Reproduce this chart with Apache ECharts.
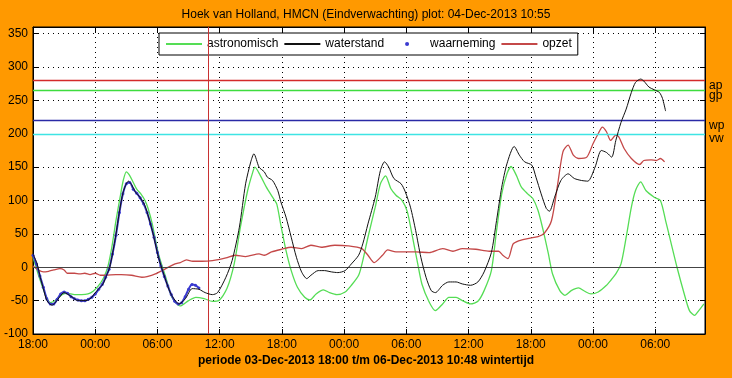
<!DOCTYPE html>
<html>
<head>
<meta charset="utf-8">
<script src="https://cdn.jsdelivr.net/npm/echarts@6/dist/echarts.min.js"></script>
<style>
html,body{margin:0;padding:0;background:#FF9900;}
#chart{width:732px;height:378px;}
</style>
</head>
<body>
<div id="chart"></div>
<script>
// time in hours since 03-Dec-2013 18:00
var titleText = 'Hoek van Holland, HMCN (Eindverwachting) plot: 04-Dec-2013 10:55';
var periodText = 'periode 03-Dec-2013 18:00 t/m 06-Dec-2013 10:48 wintertijd';
var seriesNames = ['astronomisch', 'waterstand', 'waarneming', 'opzet'];

var astronomisch = [
 [0,15],[0.7,-20],[1.3,-45],[1.7,-53],[2.3,-48],[2.8,-41],[3.3,-39],[4,-41],[4.7,-41],[5.3,-40],[5.8,-36],
 [6.3,-28],[6.8,-16],[7.2,0],[7.6,30],[8,70],[8.4,105],[8.7,130],[9,143],[9.3,138],[9.67,127],[10,117],
 [10.4,110],[10.8,100],[11.1,88],[11.5,65],[12.1,20],[12.8,-15],[13.4,-45],[14.2,-58],[15,-50],[15.7,-45],
 [16.5,-47],[17.3,-51],[17.9,-50],[18.7,-32],[19.4,5],[20,60],[20.7,115],[21.2,143],[21.4,150],[21.9,138],
 [22.5,120],[23.1,105],[23.5,95],[23.9,63],[24.4,25],[24.9,-5],[25.5,-30],[26.2,-45],[26.7,-49],[27.3,-40],
 [28,-34],[28.6,-38],[29.3,-41],[30.1,-37],[30.7,-27],[31.4,-12],[31.8,10],[32.3,45],[33,90],[33.5,125],
 [34,137],[34.5,118],[35,108],[35.6,100],[36.1,83],[36.6,45],[37.1,5],[37.5,-25],[38.2,-52],[38.8,-65],
 [39.5,-55],[40.1,-45],[40.8,-45],[41.4,-50],[42.2,-55],[42.9,-51],[43.5,-35],[44.2,-5],[44.7,55],[45.2,110],
 [45.7,140],[46.1,151],[46.6,138],[47.1,120],[47.7,110],[48.2,103],[48.7,85],[49.2,55],[49.7,20],[50.1,-10],
 [50.8,-35],[51.3,-42],[51.9,-35],[52.6,-31],[53.2,-36],[53.8,-40],[54.5,-37],[55.3,-27],[55.8,-18],[56.2,-10],
 [56.7,5],[57.2,45],[57.7,90],[58.1,115],[58.6,128],[59.1,115],[59.9,105],[60.5,100],[61,70],[61.5,38],
 [62.1,0],[62.8,-40],[63.3,-65],[63.8,-72],[64.2,-65],[64.7,-55]
];

var waterstand = [
 [0,20],[0.4,5],[0.7,-15],[1,-32],[1.34,-50],[1.84,-57],[2.3,-50],[2.8,-40],[3,-38],[3.3,-40],[3.8,-45],
 [4.3,-50],[5.1,-50],[5.6,-46],[5.9,-40],[6.3,-33],[6.75,-25],[7.1,-12],[7.4,0],[7.9,40],[8.3,80],[8.7,113],
 [9.2,129],[9.5,124],[9.87,113],[10.3,105],[10.8,92],[11.5,55],[12.1,15],[12.6,-10],[13.3,-40],[14.1,-55],
 [14.7,-47],[15.35,-32],[16,-33],[16.6,-38],[17.3,-41],[17.8,-38],[18.6,-15],[19.2,10],[19.9,60],[20.5,125],
 [21,158],[21.3,170],[21.8,150],[22.3,143],[22.6,135],[23.1,130],[23.6,115],[23.9,98],[24.4,75],[24.9,45],
 [25.4,15],[25.9,-7],[26.4,-17],[26.8,-12],[27.5,-5],[28.1,-5],[28.8,-7],[29.4,-8],[30.1,-5],[30.7,5],
 [31.4,18],[31.8,35],[32.3,65],[33,105],[33.5,145],[33.9,158],[34.3,150],[34.8,133],[35.5,125],[35.9,113],
 [36.4,90],[36.9,55],[37.4,15],[37.9,-15],[38.4,-35],[38.8,-38],[39.5,-27],[40.1,-22],[40.8,-22],[41.4,-25],
 [42.2,-27],[42.9,-22],[43.5,-7],[44.2,22],[44.7,70],[45.2,120],[45.7,155],[46.4,181],[46.9,168],[47.4,158],
 [48.1,153],[48.5,135],[49,110],[49.5,88],[49.8,84],[50.3,105],[50.9,130],[51.6,140],[52.2,133],[52.9,130],
 [53.5,129],[54.2,150],[54.8,175],[55.3,172],[55.8,165],[56.2,190],[56.7,217],[57.2,237],[57.7,262],
 [58.1,277],[58.6,282],[58.9,279],[59.4,270],[59.9,266],[60.4,262],[60.7,253],[61,234]
];

var waarneming = [
 [0,18],[0.33,5],[0.67,-13],[1,-30],[1.33,-47],[1.67,-55],[2,-55],[2.33,-48],[2.67,-40],[3,-37],[3.33,-39],
 [3.67,-44],[4,-47],[4.33,-49],[4.67,-50],[5,-50],[5.33,-48],[5.67,-45],[6,-40],[6.33,-33],[6.67,-26],
 [7,-15],[7.33,-3],[7.67,20],[8,48],[8.33,82],[8.67,110],[9,125],[9.33,127],[9.67,117],[10,111],[10.33,104],
 [10.67,95],[11,82],[11.33,65],[11.67,45],[12,22],[12.33,2],[12.67,-14],[13,-28],[13.33,-41],[13.67,-51],
 [14,-55],[14.33,-53],[14.67,-44],[15,-33],[15.33,-26],[15.67,-27],[16,-31]
];

var opzet = [
 [0,2],[0.5,-4],[1,-7],[1.5,-6],[2,-4],[2.6,-2],[3,-4],[3.3,-9],[4,-9],[4.5,-10],[5,-9],[5.5,-11],[6,-9],
 [6.5,-12],[7,-12],[8,-11],[8.5,-11],[9.5,-12],[10.5,-15],[11,-14],[11.8,-10],[12.8,-2],[13.7,5],[14.2,7],
 [14.8,11],[15.4,9],[16.3,9],[17.3,10],[18.6,14],[19.5,18],[20.5,16],[21.8,20],[22.3,18],[23,23],[24,27],
 [24.9,30],[25.9,28],[26.8,33],[27.8,30],[29.1,33],[30.4,32],[31.7,28],[32.3,18],[32.9,7],[33.7,18],
 [34.2,26],[35,23],[36.9,23],[38.2,22],[39.5,28],[40.5,24],[41.4,28],[42.7,27],[44,24],[44.9,24],[45.3,18],
 [45.8,13],[46.3,35],[46.9,40],[47.7,43],[48.7,46],[49.3,51],[50,70],[50.6,125],[51.1,173],[51.6,183],
 [52.1,168],[52.6,163],[53.4,165],[54,185],[54.5,200],[54.9,210],[55.3,203],[55.7,190],[56.2,198],
 [56.5,195],[57,178],[57.7,163],[58.5,154],[58.9,160],[59.6,161],[60.1,160],[60.5,163],[60.9,158]
];

var levelNames = ['ap', 'gp', 'wp', 'vw'];
var levelValues = [280, 265, 220, 200];
var levelColors = ['#d42a2a', '#3edc3e', '#2a2aa6', '#3ee4e4'];
var plotTimeHour = 16.917; // 04-Dec-2013 10:55

var chart = echarts.init(document.getElementById('chart'), null, {renderer: 'canvas'});
var baseFont = "Arial, 'Liberation Sans', sans-serif";

function xLabel(v) {
  var r = Math.round(v);
  if (Math.abs(v - r) > 1e-6 || r % 6 !== 0) return '';
  var hh = (18 + r) % 24;
  return (hh < 10 ? '0' : '') + hh + ':00';
}

var levelData = levelValues.map(function (v, i) {
  return {
    name: levelNames[i], yAxis: v,
    lineStyle: {color: levelColors[i], width: 1.3, type: 'solid'},
    label: {show: true, position: 'end', formatter: levelNames[i], color: '#000',
            fontSize: 12, fontFamily: baseFont, distance: 4, offset: [0, 5]}
  };
});
levelData.push({yAxis: 0, lineStyle: {color: '#444', width: 1, type: 'solid'}, label: {show: false}});
levelData.push({xAxis: plotTimeHour, lineStyle: {color: '#c83232', width: 1, type: 'solid'}, label: {show: false}});

var gridLine = {show: true, lineStyle: {color: '#000', width: 1, type: [1, 4]}};
var noDot = {opacity: 0};
// small dot centred in a 36x4 legend box
var dotIcon = 'path://M0,2L0,2M16,2a2,2 0 1,0 4,0a2,2 0 1,0 -4,0ZM36,2L36,2M0,0L0,0M36,4L36,4';

var option = {
  animation: false,
  backgroundColor: '#FF9900',
  title: [
    {text: titleText, left: 'center', top: 9, padding: 0,
     textStyle: {fontSize: 12, fontWeight: 'normal', color: '#000', fontFamily: baseFont}},
    {text: periodText, left: 'center', top: 355, padding: 0,
     textStyle: {fontSize: 12, fontWeight: 'bold', color: '#000',
                 fontFamily: "'Liberation Sans Narrow', 'Arial Narrow', Arial, sans-serif"}}
  ],
  legend: {
    left: 159, top: 33, padding: [5, 6, 5, 6], orient: 'horizontal',
    itemWidth: 36, itemHeight: 4, itemGap: 5,
    backgroundColor: '#fff', borderColor: '#000', borderWidth: 1,
    textStyle: {fontSize: 12, color: '#000', fontFamily: baseFont},
    data: [
      {name: seriesNames[0], itemStyle: noDot},
      {name: seriesNames[1], itemStyle: noDot},
      {name: seriesNames[2], icon: dotIcon, itemStyle: {color: '#3a3ad0', borderWidth: 0}},
      {name: seriesNames[3], itemStyle: noDot}
    ],
    selectedMode: false
  },
  grid: {left: 33, right: 27, top: 27, bottom: 44, show: true, backgroundColor: '#fff',
         borderColor: '#000', borderWidth: 1},
  xAxis: [
    {type: 'value', min: 0, max: 64.8, interval: 6, position: 'bottom',
     axisLine: {show: true, onZero: false, lineStyle: {color: '#000'}},
     axisTick: {show: true, inside: true, length: 5, lineStyle: {color: '#000'}},
     axisLabel: {show: true, formatter: xLabel, color: '#000', fontSize: 12, fontFamily: baseFont,
                 margin: 5, showMaxLabel: false},
     splitLine: gridLine},
    {type: 'value', min: 0, max: 64.8, interval: 6, position: 'top',
     axisLine: {show: true, onZero: false, lineStyle: {color: '#000'}},
     axisTick: {show: true, inside: true, length: 5, lineStyle: {color: '#000'}},
     axisLabel: {show: false}, splitLine: {show: false}}
  ],
  yAxis: [
    {type: 'value', min: -100, max: 360, interval: 50, position: 'left',
     axisLine: {show: true, onZero: false, lineStyle: {color: '#000'}},
     axisTick: {show: true, inside: true, length: 5, lineStyle: {color: '#000'}},
     axisLabel: {show: true, color: '#000', fontSize: 12, fontFamily: baseFont, margin: 5,
                 showMaxLabel: false,
                 formatter: function (v) { return (v % 50 === 0) ? String(v) : ''; }},
     splitLine: gridLine},
    {type: 'value', min: -100, max: 360, interval: 50, position: 'right',
     axisLine: {show: true, onZero: false, lineStyle: {color: '#000'}},
     axisTick: {show: true, inside: true, length: 5, lineStyle: {color: '#000'}},
     axisLabel: {show: false}, splitLine: {show: false}}
  ],
  series: [
    {name: 'levels', type: 'line', data: [], silent: true, z: 1,
     markLine: {silent: true, symbol: 'none', animation: false, data: levelData}},
    {name: seriesNames[0], type: 'line', data: astronomisch, symbol: 'none', z: 3, smooth: 0.25,
     lineStyle: {color: '#55dd55', width: 1.3}, itemStyle: {color: '#55dd55'}},
    {name: seriesNames[2], type: 'line', data: waarneming, symbol: 'circle', symbolSize: 3,
     showSymbol: true, z: 4, smooth: 0.25,
     lineStyle: {color: '#3a3ad0', width: 2}, itemStyle: {color: '#3a3ad0'}},
    {name: seriesNames[1], type: 'line', data: waterstand, symbol: 'none', z: 5, smooth: 0.25,
     lineStyle: {color: '#111', width: 1}, itemStyle: {color: '#111'}},
    {name: seriesNames[3], type: 'line', data: opzet, symbol: 'none', z: 3, smooth: 0.25,
     lineStyle: {color: '#c44848', width: 1.3}, itemStyle: {color: '#c44848'}}
  ]
};
chart.setOption(option);
</script>
</body>
</html>
